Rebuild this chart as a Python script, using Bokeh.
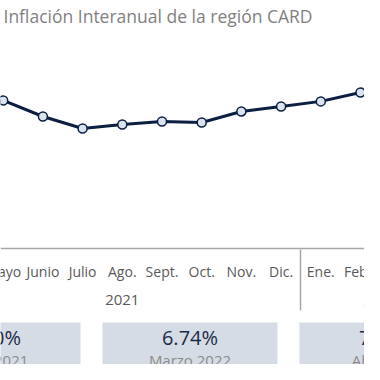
from bokeh.plotting import figure
from bokeh.models import Range1d, LinearAxis, FixedTicker, ColumnDataSource, Label
from bokeh.embed import file_html
from bokeh.resources import INLINE
from bokeh.core.properties import value

# ---------------- data ----------------
months = ["Abril", "Mayo", "Junio", "Julio", "Ago.", "Sept.", "Oct.", "Nov.", "Dic.",
          "Ene.", "Febr.", "Marzo", "Abril"]
years = ["2021", "2022"]
year_of_month = [0, 0, 0, 0, 0, 0, 0, 0, 0, 1, 1, 1, 1]
inflation = [5.30, 5.66, 4.99, 4.49, 4.66, 4.78, 4.74, 5.20, 5.41, 5.62, 5.99, 6.74, 7.45]
title_text = "Inflación Interanual de la región CARD"
box_month_index = [0, 11, 12]
box_dates = ["Abril 2021", "Marzo 2022", "Abril 2022"]

# ---------------- styles / layout ----------------
NAVY = "#0c1f42"
GRAY_AX = "#a6a6a6"
LABEL_GRAY = "#595959"
FONT = "Open Sans"

X0, X1 = 0.932, 10.101
Y0, Y1 = -5.343, 9.823
AXIS_Y = -0.51          # axis line level
MONTH_LABEL_Y = -1.468  # centre of month labels
YEAR_LABEL_Y = -2.635   # centre of year labels

p = figure(width=364, height=364, output_backend="svg", toolbar_location=None,
           x_range=Range1d(X0, X1), y_range=Range1d(Y0, Y1),
           x_axis_location=None, y_axis_location=None, min_border=0,
           background_fill_color="white", border_fill_color="white")
p.outline_line_color = None
p.xgrid.visible = False
p.ygrid.visible = False

# month axis (line only; labels drawn as text so that edge labels are clipped like the original)
ax_m = LinearAxis(ticker=FixedTicker(ticks=list(range(len(months)))),
                  fixed_location=AXIS_Y)
ax_m.axis_line_color = GRAY_AX
ax_m.axis_line_width = 1.5
ax_m.major_tick_line_color = None
ax_m.minor_tick_line_color = None
ax_m.major_label_text_font_size = "0px"
ax_m.major_label_text_color = None
p.add_layout(ax_m, "below")

# year groups
centers = []
bounds = []
for yi in range(len(years)):
    idx = [i for i, y in enumerate(year_of_month) if y == yi]
    centers.append((min(idx) + max(idx)) / 2)
    if yi > 0:
        bounds.append(min(idx) - 0.5)

# year separator (minor ticks of an unlabeled axis)
ax_s = LinearAxis(ticker=FixedTicker(ticks=[], minor_ticks=bounds), fixed_location=-0.5517)
ax_s.axis_line_color = None
ax_s.major_tick_line_color = None
ax_s.major_label_text_font_size = "0px"
ax_s.minor_tick_line_color = GRAY_AX
ax_s.minor_tick_line_width = 1.5
ax_s.minor_tick_in = 0
ax_s.minor_tick_out = 61
p.add_layout(ax_s, "below")

# tick labels
msrc = ColumnDataSource(dict(x=list(range(len(months))), t=months))
p.text(x="x", y=MONTH_LABEL_Y, text="t", source=msrc, text_align="center",
       text_baseline="middle", text_font=value(FONT), text_font_size="14px",
       text_color=LABEL_GRAY)
ysrc = ColumnDataSource(dict(x=centers, t=years))
p.text(x="x", y=YEAR_LABEL_Y, text="t", source=ysrc, text_align="center",
       text_baseline="middle", text_font=value(FONT), text_font_size="15px",
       text_color=LABEL_GRAY)

# line + markers
src = ColumnDataSource(dict(x=list(range(len(months))), y=inflation))
p.line("x", "y", source=src, line_color=NAVY, line_width=3)
p.scatter("x", "y", source=src, size=9, fill_color="#dbe3f0", line_color=NAVY, line_width=1.5)

# summary boxes
box_centers = [0.743, 5.705, 10.667]
half_w = 2.204
bsrc = ColumnDataSource(dict(
    left=[c - half_w for c in box_centers],
    right=[c + half_w for c in box_centers],
    cx=box_centers,
    val=[f"{inflation[i]:.2f}%" for i in box_month_index],
    date=box_dates,
))
p.quad(left="left", right="right", top=-3.593, bottom=-5.593, source=bsrc,
       fill_color="#d6dce5", line_color=None)
p.text(x="cx", y=-4.218, text="val", source=bsrc, text_align="center",
       text_baseline="middle", text_font=value(FONT), text_font_size="20px",
       text_color="#1c2a48")
p.text(x="cx", y=-5.135, text="date", source=bsrc, text_align="center",
       text_baseline="middle", text_font=value(FONT), text_font_size="15px",
       text_color="#8c8c8c")

# title
p.add_layout(Label(x=1.0076, y=9.1775, text=title_text, text_baseline="middle",
                   text_font=FONT, text_font_size="17.5px", text_color="#7f7f7f"))

open("out.html", "w").write(file_html(p, INLINE))
